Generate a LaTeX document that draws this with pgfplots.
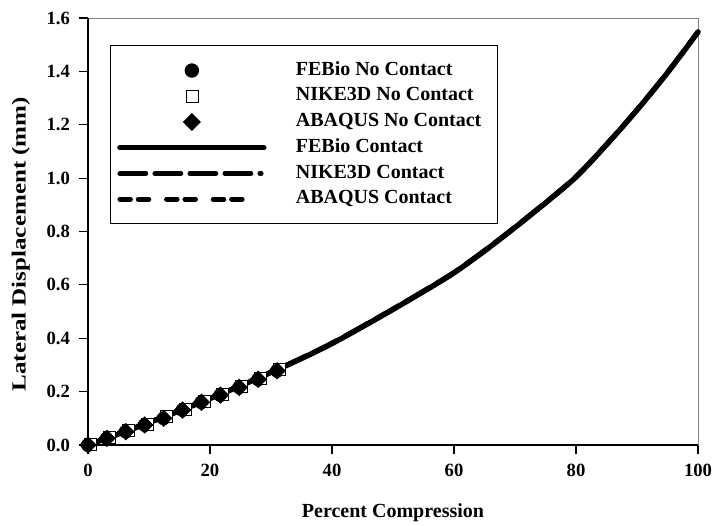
\documentclass[border=0pt]{standalone}
\usepackage{fontspec}
\setmainfont{Liberation Serif}
\usepackage{pgfplots}
\pgfplotsset{compat=1.18}
\pgfplotsset{
  marklegend/.style={legend image code/.code={\path[draw=none,fill=none] (0pt,0pt) -- (130pt,0pt); \draw[##1] plot coordinates {(54pt,0pt)};}},
  linelegend/.style={legend image code/.code={\path[draw=none,fill=none] (0pt,0pt) -- (130pt,0pt); \draw[##1] (0pt,0pt) -- (#1,0pt);}},
}
\begin{document}
\begin{tikzpicture}
\begin{axis}[
  scale only axis, width=457.5pt, height=320.25pt,
  xmin=0, xmax=100, ymin=0, ymax=1.6,
  xtick={0,20,40,60,80,100}, ytick={0,0.2,0.4,0.6,0.8,1.0,1.2,1.4,1.6},
  tick align=outside, xtick pos=bottom, ytick pos=left,
  major tick length=7pt,
  tick style={black, line width=0.8pt},
  axis line style={gray, line width=0.6pt},
  /pgf/number format/assume math mode=true,
  yticklabel style={/pgf/number format/.cd, fixed, fixed zerofill, precision=1, /tikz/.cd, xshift=-3pt},
  ticklabel style={font=\fontsize{14}{16}\selectfont\bfseries},
  xticklabel style={yshift=-4pt},
  xlabel={Percent Compression}, ylabel={Lateral Displacement (mm)},
  label style={font=\fontsize{15}{18}\selectfont\bfseries},
  xlabel style={at={(axis description cs:0.5,-0.159)}, anchor=center},
  ylabel style={at={(axis description cs:-0.110,0.47)}, anchor=center, xscale=1.25},
  clip=false,
  legend cell align=left,
  legend style={at={(0,1)}, anchor=north west, xshift=16.5pt, yshift=-20.5pt,
    draw=black, line width=0.8pt, font=\fontsize{15}{18}\selectfont\bfseries,
    inner xsep=5pt, inner ysep=9pt, row sep=0.3pt,
    nodes={text height=11pt, text depth=4pt, inner ysep=2pt}},
]
\draw[black, line width=1.1pt] (rel axis cs:0,1) -- (rel axis cs:0,0) -- (rel axis cs:1,0);

\addplot[only marks, mark=*, mark size=5pt, black, marklegend]
coordinates {(0,0) (3.1,0.025) (6.2,0.05) (9.3,0.075) (12.4,0.1) (15.5,0.131) (18.6,0.16) (21.7,0.187) (24.8,0.216) (27.9,0.246) (31.0,0.278)};
\addlegendentry{FEBio No Contact}

\addplot[only marks, mark=square*, mark size=4.5pt, black, mark options={fill=white, line width=0.5pt}, marklegend]
coordinates {(0.4,0.003) (3.5,0.028) (6.6,0.054) (9.7,0.079) (12.8,0.106) (15.9,0.135) (19.0,0.164) (22.1,0.191) (25.2,0.221) (28.3,0.251) (31.4,0.282)};
\addlegendentry{NIKE3D No Contact}

\addplot[only marks, mark=square*, mark size=4.4pt, black, mark options={rotate=45}, marklegend]
coordinates {(0,0) (3.1,0.025) (6.2,0.05) (9.3,0.075) (12.4,0.1) (15.5,0.131) (18.6,0.16) (21.7,0.187) (24.8,0.216) (27.9,0.246) (31.0,0.278)};
\addlegendentry{ABAQUS No Contact\hspace*{5pt}}

\addplot[black, line width=4pt, line cap=round, smooth, linelegend=108pt]
coordinates {(0,0) (5,0.041) (10,0.084) (15,0.128) (20,0.174) (25,0.222) (30,0.272) (35,0.324) (40,0.380) (45,0.443) (50,0.508) (55,0.575) (60,0.645) (65,0.727) (70,0.815) (75,0.907) (80,1.004) (85,1.125) (90,1.255) (95,1.395) (100,1.547)};
\addlegendentry{FEBio Contact}

\addplot[black, line width=3.6pt, line cap=round, smooth, dash pattern=on 19.5pt off 6.75pt, linelegend=106pt]
coordinates {(0,0) (5,0.042) (10,0.085) (15,0.129) (20,0.175) (25,0.223) (30,0.273) (35,0.326) (40,0.382) (45,0.445) (50,0.510) (55,0.577) (60,0.647) (65,0.729) (70,0.817) (75,0.909) (80,1.006) (85,1.127) (90,1.257) (95,1.397) (100,1.549)};
\addlegendentry{NIKE3D Contact}

\addplot[black, line width=3.6pt, line cap=round, smooth, dash pattern=on 8pt off 5.75pt on 8pt off 13.25pt, linelegend=95pt]
coordinates {(0,0) (5,0.041) (10,0.084) (15,0.128) (20,0.174) (25,0.222) (30,0.272) (35,0.324) (40,0.380) (45,0.443) (50,0.508) (55,0.575) (60,0.645) (65,0.727) (70,0.815) (75,0.907) (80,1.004) (85,1.125) (90,1.255) (95,1.395) (100,1.547)};
\addlegendentry{ABAQUS Contact}
\end{axis}
\pgfresetboundingbox
\useasboundingbox (-66pt,-60pt) rectangle (469.5pt,333.75pt);
\end{tikzpicture}
\end{document}
